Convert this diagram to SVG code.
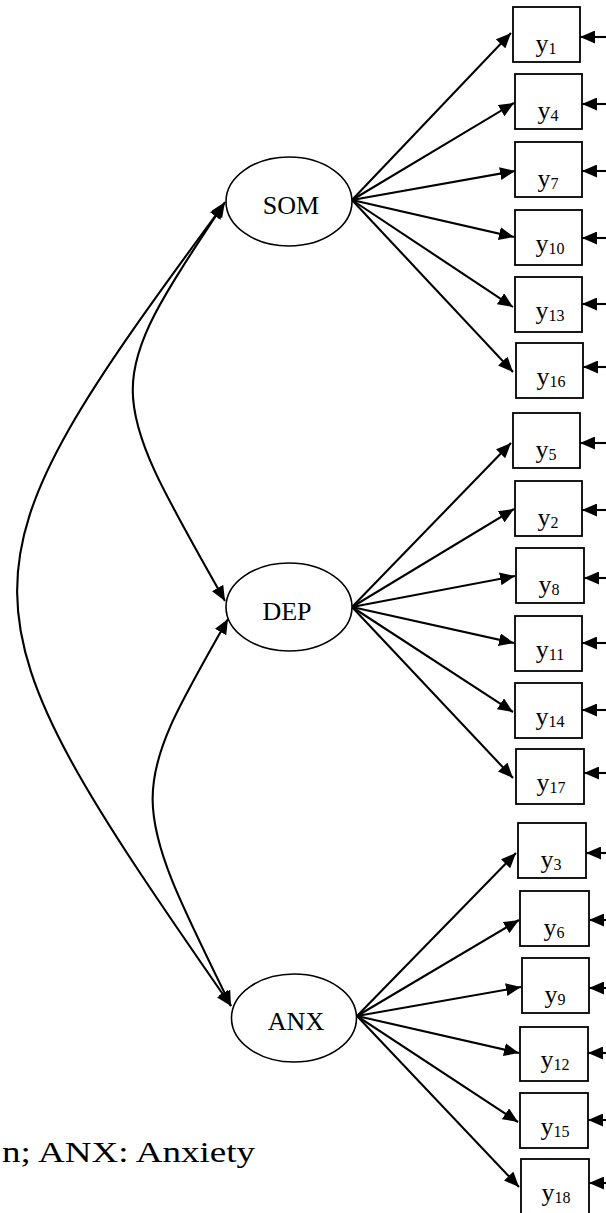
<svg xmlns="http://www.w3.org/2000/svg" width="606" height="1213" viewBox="0 0 606 1213">
  <style>
    .lat { fill: #fff; stroke: #000; stroke-width: 1.6; }
    .obs { fill: #fff; stroke: #000; stroke-width: 1.8; }
    .lbl { font-family: "Liberation Serif", "Times New Roman", serif; fill: #000; }
    .latlbl { font-size: 26px; text-anchor: middle; }
    .obslbl { font-size: 26px; text-anchor: middle; }
    .sub { font-size: 16px; }
    .edge { fill: none; stroke: #000; stroke-width: 2.1; marker-end: url(#head); }
    .cov { fill: none; stroke: #000; stroke-width: 2.1; marker-start: url(#head); marker-end: url(#head); }
  </style>
  <defs>
    <marker id="head" markerUnits="userSpaceOnUse" markerWidth="16" markerHeight="13" refX="15" refY="6.5" orient="auto-start-reverse">
      <path d="M0,0 L15,6.5 L0,13 z" fill="#000"/>
    </marker>
  </defs>
  <rect width="606" height="1213" fill="#fff"/>

  <!-- connectors -->
  <g id="connectors">
    <!-- factor covariances -->
    <path class="cov" d="M225,202 C102,388 102,384 225,601"/>
    <path class="cov" d="M224,204 C-53,580 -53,597 231,1006"/>
    <path class="cov" d="M228,619 C127,796 127,795 231,1006"/>
    <!-- SOM loadings -->
    <path class="edge" d="M352,200 L511,33"/>
    <path class="edge" d="M352,200 L514,103"/>
    <path class="edge" d="M352,200 L515,171"/>
    <path class="edge" d="M352,200 L514,237"/>
    <path class="edge" d="M352,200 L513,307"/>
    <path class="edge" d="M352,200 L513,372"/>
    <!-- DEP loadings -->
    <path class="edge" d="M352,607 L511,443"/>
    <path class="edge" d="M352,607 L514,509"/>
    <path class="edge" d="M352,607 L515,576"/>
    <path class="edge" d="M352,607 L514,643"/>
    <path class="edge" d="M352,607 L513,712"/>
    <path class="edge" d="M352,607 L513,778"/>
    <!-- ANX loadings -->
    <path class="edge" d="M357,1016 L516,853"/>
    <path class="edge" d="M357,1016 L519,920"/>
    <path class="edge" d="M357,1016 L521,987"/>
    <path class="edge" d="M357,1016 L519,1053"/>
    <path class="edge" d="M357,1016 L518,1122"/>
    <path class="edge" d="M357,1016 L519,1187"/>
    <!-- residual arrows -->
    <path class="edge" d="M612,37 L580,37"/>
    <path class="edge" d="M612,104 L582,104"/>
    <path class="edge" d="M612,171 L582,171"/>
    <path class="edge" d="M612,238 L582,238"/>
    <path class="edge" d="M612,304 L582,304"/>
    <path class="edge" d="M612,367 L583,367"/>
    <path class="edge" d="M612,443 L580,443"/>
    <path class="edge" d="M612,510 L582,510"/>
    <path class="edge" d="M612,578 L584,578"/>
    <path class="edge" d="M612,643 L582,643"/>
    <path class="edge" d="M612,710 L582,710"/>
    <path class="edge" d="M612,773 L584,773"/>
    <path class="edge" d="M612,853 L586,853"/>
    <path class="edge" d="M612,920 L589,920"/>
    <path class="edge" d="M612,988 L589,988"/>
    <path class="edge" d="M612,1053 L588,1053"/>
    <path class="edge" d="M612,1120 L588,1120"/>
    <path class="edge" d="M612,1183 L589,1183"/>
  </g>

  <!-- latent factors -->
  <g id="SOM"><ellipse class="lat" cx="289" cy="201.5" rx="63" ry="44.5"/><text class="lbl latlbl" x="291" y="214">SOM</text></g>
  <g id="DEP"><ellipse class="lat" cx="289" cy="607" rx="63" ry="44"/><text class="lbl latlbl" x="287" y="620">DEP</text></g>
  <g id="ANX"><ellipse class="lat" cx="294" cy="1018" rx="62.5" ry="44"/><text class="lbl latlbl" x="296" y="1030">ANX</text></g>

  <!-- observed indicators -->
  <g id="y1"><rect class="obs" x="513" y="7" width="67" height="55"/><text class="lbl obslbl" x="546" y="52">y<tspan class="sub" dy="2">1</tspan></text></g>
  <g id="y4"><rect class="obs" x="515" y="74" width="67" height="55"/><text class="lbl obslbl" x="548" y="119">y<tspan class="sub" dy="2">4</tspan></text></g>
  <g id="y7"><rect class="obs" x="515" y="142" width="67" height="55"/><text class="lbl obslbl" x="548" y="187">y<tspan class="sub" dy="2">7</tspan></text></g>
  <g id="y10"><rect class="obs" x="515" y="210" width="67" height="55"/><text class="lbl obslbl" x="550" y="252">y<tspan class="sub" dy="2">10</tspan></text></g>
  <g id="y13"><rect class="obs" x="515" y="277" width="67" height="55"/><text class="lbl obslbl" x="550" y="319">y<tspan class="sub" dy="2">13</tspan></text></g>
  <g id="y16"><rect class="obs" x="516" y="343" width="67" height="55"/><text class="lbl obslbl" x="551" y="385">y<tspan class="sub" dy="2">16</tspan></text></g>

  <g id="y5"><rect class="obs" x="513" y="413" width="67" height="55"/><text class="lbl obslbl" x="546" y="458">y<tspan class="sub" dy="2">5</tspan></text></g>
  <g id="y2"><rect class="obs" x="515" y="481" width="67" height="55"/><text class="lbl obslbl" x="548" y="526">y<tspan class="sub" dy="2">2</tspan></text></g>
  <g id="y8"><rect class="obs" x="516" y="548" width="68" height="55"/><text class="lbl obslbl" x="549" y="593">y<tspan class="sub" dy="2">8</tspan></text></g>
  <g id="y11"><rect class="obs" x="515" y="616" width="67" height="55"/><text class="lbl obslbl" x="550" y="658">y<tspan class="sub" dy="2">11</tspan></text></g>
  <g id="y14"><rect class="obs" x="515" y="683" width="67" height="55"/><text class="lbl obslbl" x="550" y="725">y<tspan class="sub" dy="2">14</tspan></text></g>
  <g id="y17"><rect class="obs" x="516" y="749" width="68" height="55"/><text class="lbl obslbl" x="551" y="791">y<tspan class="sub" dy="2">17</tspan></text></g>

  <g id="y3"><rect class="obs" x="518" y="823" width="68" height="55"/><text class="lbl obslbl" x="551" y="868">y<tspan class="sub" dy="2">3</tspan></text></g>
  <g id="y6"><rect class="obs" x="520" y="891" width="69" height="55"/><text class="lbl obslbl" x="554" y="936">y<tspan class="sub" dy="2">6</tspan></text></g>
  <g id="y9"><rect class="obs" x="522" y="958" width="67" height="55"/><text class="lbl obslbl" x="555" y="1003">y<tspan class="sub" dy="2">9</tspan></text></g>
  <g id="y12"><rect class="obs" x="520" y="1027" width="68" height="54"/><text class="lbl obslbl" x="555" y="1068">y<tspan class="sub" dy="2">12</tspan></text></g>
  <g id="y15"><rect class="obs" x="520" y="1093" width="68" height="55"/><text class="lbl obslbl" x="555" y="1135">y<tspan class="sub" dy="2">15</tspan></text></g>
  <g id="y18"><rect class="obs" x="521" y="1159" width="68" height="56"/><text class="lbl obslbl" x="556" y="1201">y<tspan class="sub" dy="2">18</tspan></text></g>

  <!-- caption -->
  <text class="lbl" font-size="30" text-anchor="end" transform="translate(255,1162) scale(1.235,1)">n; ANX: Anxiety</text>
</svg>
